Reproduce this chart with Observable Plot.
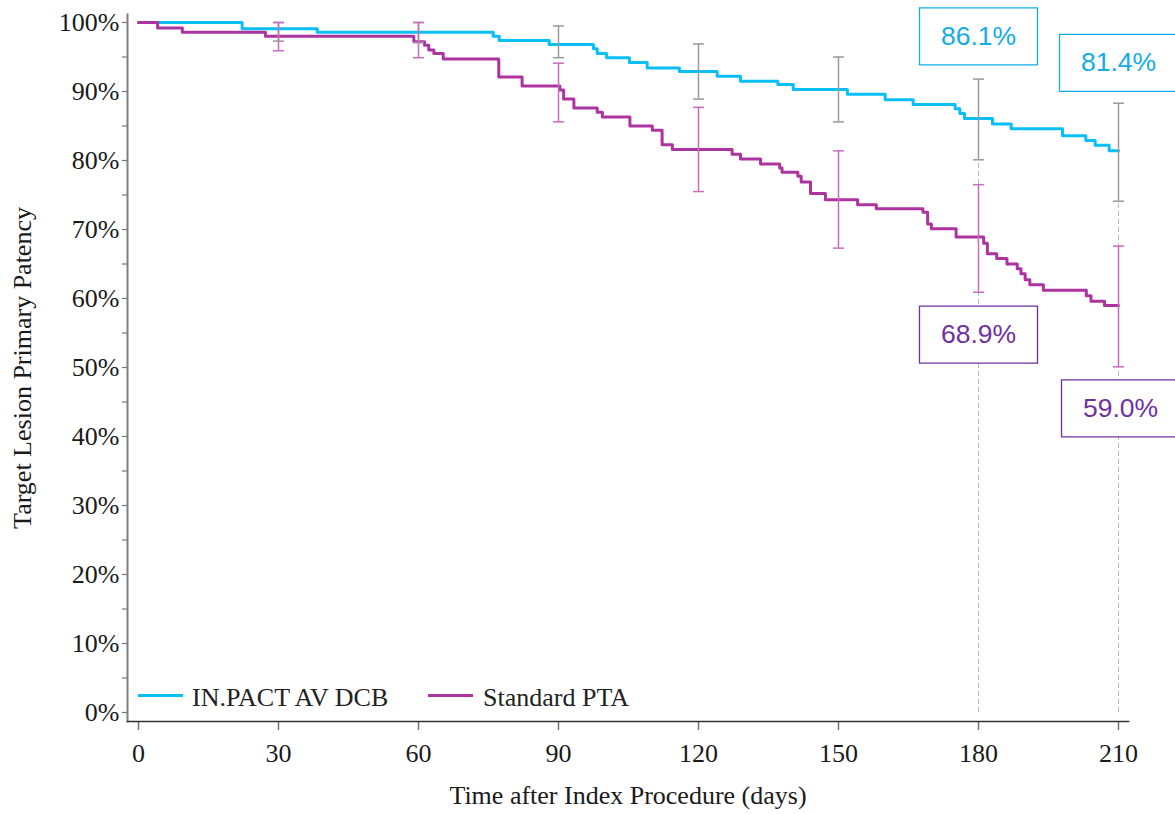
<!DOCTYPE html>
<html>
<head>
<meta charset="utf-8">
<script src="https://cdn.jsdelivr.net/npm/d3@7"></script>
<script src="https://cdn.jsdelivr.net/npm/@observablehq/plot@0.6"></script>
<style>
  body { margin: 0; background: #fff; }
  #wrap { position: relative; width: 1175px; height: 814px; }
  .lg-line { position: absolute; height: 3px; }
  .lg-text { position: absolute; font-family: "Liberation Serif", serif; font-size: 26px; line-height: 26px; color: #222; white-space: nowrap; }
</style>
</head>
<body>
<div id="wrap"></div>
<script>
// ---------- data ----------
const seriesNames = ["IN.PACT AV DCB", "Standard PTA"];

const dcbDays = [0, 22.2, 38.3, 76, 77.3, 88, 97.5, 98.3, 100.3, 105.2, 109, 115.9, 124, 129, 137, 140.3, 151.9, 160, 166, 175, 176, 177, 183, 187, 198, 203, 205, 208, 210];
const dcbPct  = [100, 99.1, 98.6, 98.0, 97.4, 96.8, 96.2, 95.5, 94.9, 94.2, 93.4, 92.9, 92.2, 91.5, 91.0, 90.3, 89.6, 88.8, 88.1, 87.5, 86.8, 86.1, 85.3, 84.6, 83.6, 82.9, 82.2, 81.4, 81.4];

const ptaDays = [0, 4.1, 9.4, 27.2, 59, 61.3, 62.2, 63.3, 65.3, 77.2, 82.2, 90.3, 91.1, 93.3, 98.3, 99.4, 105.3, 110.1, 112.2, 114.4, 127.2, 129, 133.3, 137.4, 137.9, 141.3, 142, 144, 147.2, 154.1, 158.1, 168.1, 169.1, 169.9, 175.2, 181.1, 181.9, 183.9, 186.1, 188.3, 189.1, 190, 191, 193.9, 203.1, 204.1, 207, 210];
const ptaPct  = [100, 99.2, 98.6, 98.0, 97.2, 96.7, 96.0, 95.5, 94.7, 92.1, 90.8, 90.2, 88.9, 87.6, 87.0, 86.3, 85.0, 84.4, 82.3, 81.6, 80.9, 80.2, 79.5, 78.9, 78.3, 77.7, 76.9, 75.2, 74.3, 73.6, 73.0, 72.5, 70.8, 70.1, 68.9, 68.0, 66.5, 65.8, 65.0, 64.3, 63.6, 62.7, 62.0, 61.2, 60.4, 59.6, 59.0, 59.0];

const ciDays   = [30, 60, 90, 120, 150, 180, 210];
const dcbLow   = [97.3, 97.1, 94.9, 88.9, 85.6, 80.1, 74.1];
const dcbHigh  = [100, 100, 99.5, 96.9, 95.0, 91.8, 88.3];
const ptaLow   = [95.9, 94.9, 85.6, 75.5, 67.3, 60.9, 50.1];
const ptaHigh  = [100, 100, 94.1, 87.7, 81.4, 76.5, 67.6];

const labelDays   = [180, 210, 180, 210];
const labelValues = [86.1, 81.4, 68.9, 59.0];
const labelSeries = [0, 0, 1, 1];

const xTicks = [0, 30, 60, 90, 120, 150, 180, 210];
const yMajor = [0, 10, 20, 30, 40, 50, 60, 70, 80, 90, 100];
const yMinor = [5, 15, 25, 35, 45, 55, 65, 75, 85, 95];

const xTitle = "Time after Index Procedure (days)";
const yTitle = "Target Lesion Primary Patency";

// ---------- tables ----------
const dcb = dcbDays.map((d, i) => ({day: d, pct: dcbPct[i]}));
const pta = ptaDays.map((d, i) => ({day: d, pct: ptaPct[i]}));
const ciDcb = ciDays.map((d, i) => ({day: d, lo: dcbLow[i], hi: dcbHigh[i]}));
const ciPta = ciDays.map((d, i) => ({day: d, lo: ptaLow[i], hi: ptaHigh[i]}));
const labels = labelDays.map((d, i) => ({day: d, pct: labelValues[i], s: labelSeries[i], text: labelValues[i].toFixed(1) + "%"}));

// ---------- styles ----------
const BLUE = "#0abef6";
const MAG = "#ad339f";
const LBL_BLUE = "#12aceb";
const LBL_PURPLE = "#7030a0";
const CI_GRAY = "#9a9a9a";
const CI_MAG = "#c76bbd";

const capSymbol = { draw(ctx, size) { const w = 5.5; ctx.moveTo(-w, 0); ctx.lineTo(w, 0); } };
const boxSymbol = { draw(ctx, size) { ctx.rect(-59, -28.5, 118, 57); } };

// per-label offsets (screen px) of the boxes
const labelDy = [-82, -88, 97.5, 103];
const labelDx = [0, 0, 0, 2];

function errorBars(data, color) {
  return [
    Plot.ruleX(data, {x: "day", y1: "lo", y2: "hi", stroke: color, strokeWidth: 1.5}),
    Plot.dot(data, {x: "day", y: "lo", symbol: capSymbol, stroke: color, strokeWidth: 1.5}),
    Plot.dot(data, {x: "day", y: "hi", symbol: capSymbol, stroke: color, strokeWidth: 1.5})
  ];
}

const labelMarks = labels.flatMap((l, i) => {
  const col = l.s === 0 ? LBL_BLUE : LBL_PURPLE;
  return [
    Plot.dot([l], {x: "day", y: "pct", symbol: boxSymbol, stroke: col, strokeWidth: 1.3, fill: "white", dx: labelDx[i], dy: labelDy[i]}),
    Plot.text([l], {x: "day", y: "pct", text: "text", fill: col, dx: labelDx[i], dy: labelDy[i],
      fontFamily: "Liberation Sans, Arial, sans-serif", fontSize: 26.5, textAnchor: "middle", lineAnchor: "middle"})
  ];
});

const chart = Plot.plot({
  width: 1175,
  height: 814,
  marginLeft: 127,
  marginRight: 47,
  marginTop: 14,
  marginBottom: 93,
  insetLeft: 11,
  insetRight: 10,
  insetTop: 8,
  insetBottom: 9,
  style: {fontFamily: "Liberation Serif, Times New Roman, serif", fontSize: "26px", color: "#222", background: "white"},
  x: {domain: [0, 210]},
  y: {domain: [0, 100]},
  marks: [
    // axes
    Plot.axisY(yMinor, {tickSize: 5, tickFormat: () => "", stroke: "#777", strokeWidth: 1.2, label: null}),
    Plot.axisY(yMajor, {tickSize: 5, tickPadding: 3, tickFormat: d => d + "%", stroke: "#777", strokeWidth: 1.2, fill: "#1a1a1a", fontSize: 26, label: null}),
    Plot.axisX(xTicks, {tickSize: 9, tickPadding: 13, stroke: "#777", strokeWidth: 1.5, fill: "#1a1a1a", fontSize: 26, label: null}),
    Plot.frame({anchor: "left", stroke: "#808080", strokeWidth: 2}),
    Plot.frame({anchor: "bottom", stroke: "#333", strokeWidth: 1.5}),
    // reference dashed lines
    Plot.ruleX(labels.filter(l => l.s === 0), {x: "day", y1: 0, y2: "pct", stroke: "#bbbbbb", strokeWidth: 1, strokeDasharray: "5,3"}),
    // curves
    Plot.line(dcb, {x: "day", y: "pct", curve: "step-after", stroke: BLUE, strokeWidth: 3}),
    Plot.line(pta, {x: "day", y: "pct", curve: "step-after", stroke: MAG, strokeWidth: 3}),
    // confidence bars
    ...errorBars(ciDcb, CI_GRAY),
    ...errorBars(ciPta, CI_MAG),
    // value labels
    ...labelMarks,
    // axis titles
    Plot.text([xTitle], {frameAnchor: "bottom", dy: 82, text: d => d, fill: "#1a1a1a", fontSize: 26, textAnchor: "middle"}),
    Plot.text([yTitle], {frameAnchor: "left", dx: -105, rotate: -90, text: d => d, fill: "#1a1a1a", fontSize: 26, textAnchor: "middle", lineAnchor: "middle"})
  ]
});

const wrap = document.getElementById("wrap");
wrap.appendChild(chart);

// legend (inside plot, bottom-left)
const legendItems = [
  {name: seriesNames[0], color: BLUE, lineLeft: 138, lineWidth: 45, textLeft: 192},
  {name: seriesNames[1], color: MAG, lineLeft: 428, lineWidth: 45, textLeft: 483}
];
legendItems.forEach(it => {
  const ln = document.createElement("div");
  ln.className = "lg-line";
  ln.style.left = it.lineLeft + "px";
  ln.style.top = "694px";
  ln.style.width = it.lineWidth + "px";
  ln.style.background = it.color;
  wrap.appendChild(ln);
  const tx = document.createElement("div");
  tx.className = "lg-text";
  tx.style.left = it.textLeft + "px";
  tx.style.top = "685px";
  tx.textContent = it.name;
  wrap.appendChild(tx);
});
</script>
</body>
</html>
